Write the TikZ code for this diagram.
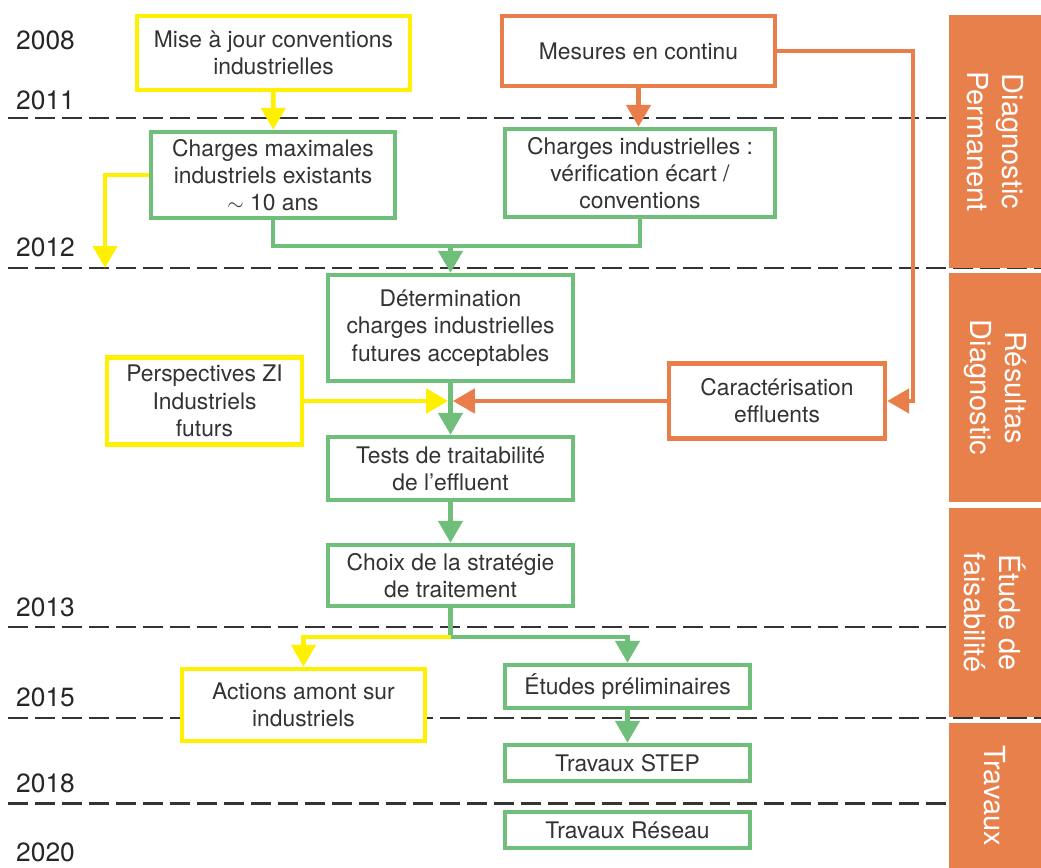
\documentclass[tikz,border=0pt]{standalone}
\usepackage{fontspec}
\setmainfont{TeX Gyre Heros}
\usetikzlibrary{arrows.meta}
\definecolor{jaune}{HTML}{FFF000}
\definecolor{vert}{HTML}{6FBF7B}
\definecolor{orangec}{HTML}{E97E4A}
\definecolor{bandeau}{HTML}{E8804C}
\definecolor{texte}{HTML}{333333}

\begin{document}
\begin{tikzpicture}
		[x=0.02cm, y=-0.02cm,
		every node/.style={font=\fontsize{13}{15.5}\selectfont, text=texte},
		box/.style={draw=#1, line width=2.5pt, fill=white, align=center, inner sep=2pt},
		dims/.style 2 args={minimum width=#1, minimum height=#2},
		link/.style={draw=#1, line width=2.6pt, -{Triangle[length=0.44cm,width=0.48cm]}},
		plain/.style={draw=#1, line width=2.6pt},
		year/.style={anchor=west, font=\fontsize{15}{18}\selectfont, text=black!85},
		limit/.style={draw=black!80, line width=1.7pt, dash pattern=on 0.4cm off 0.14cm},
		phase/.style={fill=bandeau, rotate=-90, inner sep=0pt, align=center, minimum height=1.84cm,
			font=\fontsize{16.5}{20}\selectfont, text=white}
		]
		\useasboundingbox (0,0) rectangle (1041,868);
		% limites entre annees
		\foreach \y/\xend in {118/949, 268/1041, 627/949, 718/1041, 803/949}
		\draw[limit] (8,\y) -- (\xend,\y);
		\foreach \y/\an in {40/2008, 100/2011, 247/2012, 607/2013, 697/2015, 783/2018, 852/2020}
		\node[year] (an\an) at (10,\y) {\an};
		% phases
		\node[phase, minimum width=5.06cm] (perm) at (995,141.5) {Diagnostic\\Permanent};
		\node[phase, minimum width=4.58cm] (res) at (995,387.5) {Résultas\\Diagnostic};
		\node[phase, minimum width=4.18cm] (faisa) at (995,612.5) {Étude de\\faisabilité};
		\node[phase, minimum width=2.9cm] (trav) at (995,795.5) {Travaux};
		% boites
		\node[box=jaune, dims={5.46cm}{1.48cm}] (miseajour) at (273.5,53) {Mise à jour conventions\\industrielles};
		\node[box=orangec, dims={5.46cm}{1.4cm}] (mesures) at (638.5,51) {Mesures en continu};
		\node[box=vert, dims={4.88cm}{1.72cm}] (chmax) at (273,175) {Charges maximales\\industriels existants\\$\sim$ 10 ans};
		\node[box=vert, dims={5.4cm}{1.76cm}] (chind) at (640,173) {Charges industrielles :\\vérification écart /\\conventions};
		\node[box=vert, dims={4.9cm}{2.12cm}] (determ) at (450.5,328) {Détermination\\charges industrielles\\futures acceptables};
		\node[box=jaune, dims={3.9cm}{1.74cm}] (persp) at (204.5,401) {Perspectives ZI\\Industriels\\futurs};
		\node[box=orangec, dims={4.32cm}{1.5cm}] (carac) at (777,401) {Caractérisation\\effluents};
		\node[box=vert, dims={4.9cm}{1.26cm}] (tests) at (450.5,468.5) {Tests de traitabilité\\de l’effluent};
		\node[box=vert, dims={4.9cm}{1.22cm}] (choix) at (450.5,575.5) {Choix de la stratégie\\de traitement};
		\node[box=jaune, dims={4.86cm}{1.44cm}] (actions) at (303.5,705) {Actions amont sur\\industriels};
		\node[box=vert, dims={4.9cm}{0.86cm}] (etudes) at (627.5,686.5) {Études préliminaires};
		\node[box=vert, dims={4.9cm}{0.72cm}] (step) at (627.5,763) {Travaux STEP};
		\node[box=vert, dims={4.9cm}{0.72cm}] (reseau) at (627.5,830) {Travaux Réseau};
		% liaisons
		\coordinate (versdiag) at (105,268);
		\coordinate (jonction) at (450.5,246);
		\coordinate (retour) at (913,51);
		\coordinate (partage) at (450.5,637);
		\draw[link=jaune] (miseajour) -- (chmax);
		\draw[link=orangec] (mesures.south) -- (mesures.south |- chind.north);
		\draw[link=jaune] (chmax.west) -| (versdiag);
		\draw[plain=vert] (chmax.south) |- (jonction);
		\draw[plain=vert] (chind.south) |- (jonction);
		\draw[link=vert] (jonction) -- (determ.north);
		\draw[link=orangec] (mesures.east) -- (retour) |- (carac.east);
		\draw[link=vert] (determ) -- (tests);
		\draw[link=jaune, shorten >=1.3pt] (persp.east) -- (persp.east -| determ.south);
		\draw[link=orangec, shorten >=1.3pt] (carac.west) -- (carac.west -| determ.south);
		\draw[link=vert] (tests) -- (choix);
		\draw[plain=vert] (choix.south) -- (partage);
		\draw[link=vert] (partage) -| (etudes.north);
		\draw[link=jaune] (partage) -| (actions.north);
		\draw[link=vert] (etudes) -- (step);
\end{tikzpicture}
\end{document}
